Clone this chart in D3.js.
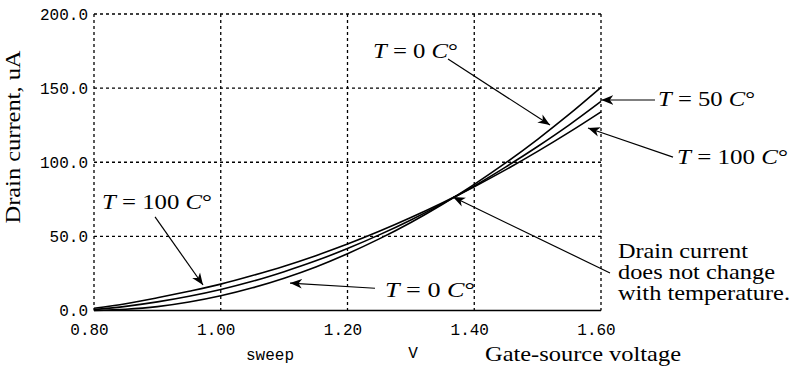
<!DOCTYPE html>
<html>
<head>
<meta charset="utf-8">
<script src="https://cdn.jsdelivr.net/npm/d3@7"></script>
<style>
body { margin: 0; background: #fff; }
svg { display: block; }
.mono { font-family: "Liberation Mono", monospace; font-size: 16px; fill: #000; }
.serif { font-family: "Liberation Serif", "Times New Roman", serif; font-size: 21px; fill: #000; }
.grid { stroke: #000; stroke-width: 1.3; stroke-dasharray: 3,3; }
.base { stroke: #000; stroke-width: 1.6; }
.curve { fill: none; stroke: #000; stroke-width: 1.6; }
.arrow { stroke: #000; stroke-width: 1.2; }
</style>
</head>
<body>
<svg width="798" height="370"></svg>
<script>
//gate-source voltage sweep (V)
var vgs = [0.80, 0.85, 0.90, 0.95, 1.00, 1.05, 1.10, 1.15, 1.20,
    1.25, 1.30, 1.35, 1.40, 1.45, 1.50, 1.55, 1.60];

//drain current (uA), one list per temperature
var id0 = [0.0, 0.8, 2.6, 5.7, 9.9, 15.3, 21.8, 29.4, 38.3,
    48.3, 59.4, 71.7, 85.1, 99.7, 115.5, 132.4, 150.5];
var id50 = [0.6, 2.8, 5.8, 9.6, 14.2, 19.7, 26.2, 33.5, 41.8,
    51.0, 61.1, 72.1, 84.0, 96.9, 110.6, 125.2, 141.0];
var id100 = [1.5, 4.6, 8.6, 13.0, 17.8, 23.6, 29.9, 37.0, 44.8,
    53.4, 62.7, 72.7, 83.5, 95.0, 107.3, 120.3, 134.0];

//ticks
var xTicks = [0.8, 1.0, 1.2, 1.4, 1.6];
var yTicks = [0, 50, 100, 150, 200];

//annotations, placed in data units (V, uA); len = printed width in px
var notes = [
    { temp: 0, len: 85, at: [1.2402, 170.3], from: [1.3586, 169.6], to: [1.5195, 125.1] },
    { temp: 50, len: 97, at: [1.690, 137.9], from: [1.6852, 142.0], to: [1.6005, 142.0] },
    { temp: 100, len: 111, at: [1.7199, 98.8], from: [1.7136, 103.5], to: [1.5795, 123.1] },
    { temp: 100, len: 110, at: [0.8126, 68.3], from: [0.8963, 63.1], to: [0.9720, 17.2] },
    { temp: 0, len: 90, at: [1.2592, 9.1], from: [1.2434, 15.0], to: [1.1093, 18.5] },
    { lines: ["Drain current", "does not change", "with temperature."], lens: [130, 157, 172],
      at: [1.6268, 35.4], from: [1.6142, 25.3], to: [1.3665, 76.6] }
];

//visual sizes
var svg = d3.select("svg"),
    margin = { left: 94, top: 14 },
    innerWidth = 507,
    innerHeight = 296.5;

var x = d3.scaleLinear().domain([0.8, 1.6]).range([margin.left, margin.left + innerWidth]);
var y = d3.scaleLinear().domain([0, 200]).range([margin.top + innerHeight, margin.top]);

svg.append("defs").append("marker")
    .attr("id", "head")
    .attr("markerUnits", "userSpaceOnUse")
    .attr("viewBox", "-12 -6 14 12")
    .attr("refX", 0).attr("refY", 0)
    .attr("markerWidth", 14).attr("markerHeight", 12)
    .attr("orient", "auto")
    .append("path")
    .attr("d", "M0,0 L-12,-4.8 L-8.5,0 L-12,4.8 Z")
    .attr("fill", "#000");

//grid
svg.append("g").selectAll("line")
    .data(xTicks)
    .join("line")
    .attr("class", "grid")
    .attr("x1", d => x(d)).attr("x2", d => x(d))
    .attr("y1", y(200)).attr("y2", y(0));
svg.append("g").selectAll("line")
    .data(yTicks.filter(d => d > 0))
    .join("line")
    .attr("class", "grid")
    .attr("x1", x(0.8)).attr("x2", x(1.6))
    .attr("y1", d => y(d)).attr("y2", d => y(d));
svg.append("line")
    .attr("class", "base")
    .attr("x1", x(0.8)).attr("x2", x(1.6))
    .attr("y1", y(0)).attr("y2", y(0));

//axes (labels only)
var gX = svg.append("g")
    .attr("transform", "translate(-5," + (y(0) + 0.5) + ")")
    .call(d3.axisBottom(x).tickValues(xTicks).tickFormat(d3.format(".2f")).tickSize(0).tickPadding(13));
var gY = svg.append("g")
    .attr("transform", "translate(" + (x(0.8) - 6) + ",0)")
    .call(d3.axisLeft(y).tickValues(yTicks).tickFormat(d3.format(".1f")).tickSize(0).tickPadding(0));
[gX, gY].forEach(g => {
    g.select(".domain").remove();
    g.selectAll("text").attr("class", "mono");
    g.attr("font-family", null).attr("font-size", null);
});

//curves
var line = d3.line()
    .x((d, i) => x(vgs[i]))
    .y(d => y(d))
    .curve(d3.curveMonotoneX);
svg.append("g").selectAll("path")
    .data([id0, id50, id100])
    .join("path")
    .attr("class", "curve")
    .attr("d", line);

//axis titles
svg.append("text").attr("class", "mono")
    .attr("x", 270).attr("y", 360).attr("text-anchor", "middle").text("sweep");
svg.append("text").attr("class", "mono")
    .attr("x", 413).attr("y", 358).attr("text-anchor", "middle").text("V");
serifText(485, 361, 196).text("Gate-source voltage");
serifText(0, 0, 173)
    .attr("transform", "translate(20,137) rotate(-90)")
    .attr("x", -86.5)
    .text("Drain current, uA");

//serif text squeezed/stretched to the printed width
function serifText(px, py, len) {
    return svg.append("text")
        .attr("class", "serif")
        .attr("x", px).attr("y", py)
        .attr("textLength", len)
        .attr("lengthAdjust", "spacingAndGlyphs");
}

//annotations
notes.forEach(n => {
    svg.append("line")
        .attr("class", "arrow")
        .attr("x1", x(n.from[0])).attr("y1", y(n.from[1]))
        .attr("x2", x(n.to[0])).attr("y2", y(n.to[1]))
        .attr("marker-end", "url(#head)");
    var px = x(n.at[0]), py = y(n.at[1]);
    if (n.lines) {
        n.lines.forEach((s, i) => serifText(px, py + i * 21, n.lens[i]).text(s));
    } else {
        var t = serifText(px, py, n.len);
        t.append("tspan").attr("font-style", "italic").text("T");
        t.append("tspan").text(" = " + n.temp + " ");
        t.append("tspan").attr("font-style", "italic").text("C");
        t.append("tspan").text("°");
    }
});
</script>
</body>
</html>
